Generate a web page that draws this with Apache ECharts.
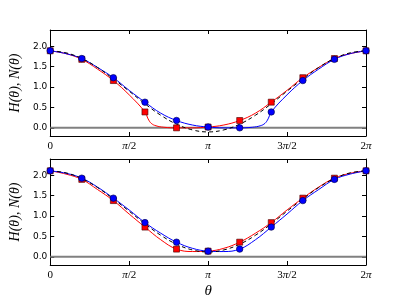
<!DOCTYPE html>
<html>
<head>
<meta charset="utf-8">
<script src="https://cdn.jsdelivr.net/npm/echarts@6/dist/echarts.min.js"></script>
<style>html,body{margin:0;padding:0;background:#fff}#c{width:407px;height:305px}</style>
</head>
<body>
<div id="c"></div>
<script>
// theta values expressed in units of pi
var markTheta = [0, 0.2, 0.4, 0.6, 0.8, 1.0, 1.2, 1.4, 1.6, 1.8, 2.0];
var xTickLabels = ['0', '{i|π}/2', '{i|π}', '3{i|π}/2', '2{i|π}'];
var yTickValues = [0, 0.5, 1.0, 1.5, 2.0];

// top panel markers
var blueTopMarks = [1.89, 1.70, 1.23, 0.63, 0.18, 0.02, 0.00, 0.39, 1.16, 1.68, 1.89];
var redTopMarks  = [1.89, 1.68, 1.16, 0.39, 0.00, 0.02, 0.18, 0.63, 1.23, 1.70, 1.89];
// top panel curves
var blueTopTheta = [0, 0.1, 0.2, 0.3, 0.4, 0.5, 0.6, 0.7, 0.8, 0.9, 1.0, 1.1, 1.2, 1.28, 1.33, 1.36, 1.38, 1.4, 1.5, 1.6, 1.7, 1.8, 1.9, 2.0];
var blueTopCurve = [1.89, 1.82, 1.70, 1.48, 1.23, 0.92, 0.63, 0.36, 0.18, 0.07, 0.02, 0.00, 0.00, 0.015, 0.05, 0.11, 0.22, 0.39, 0.81, 1.16, 1.44, 1.68, 1.82, 1.89];
var redTopTheta  = [0, 0.1, 0.2, 0.3, 0.4, 0.5, 0.6, 0.62, 0.64, 0.67, 0.72, 0.8, 0.9, 1.0, 1.1, 1.2, 1.3, 1.4, 1.5, 1.6, 1.7, 1.8, 1.9, 2.0];
var redTopCurve  = [1.89, 1.82, 1.68, 1.44, 1.16, 0.81, 0.39, 0.22, 0.11, 0.05, 0.015, 0.00, 0.00, 0.02, 0.07, 0.18, 0.36, 0.63, 0.92, 1.23, 1.48, 1.70, 1.82, 1.89];
var dashTheta = [0, 0.1, 0.2, 0.3, 0.4, 0.5, 0.6, 0.7, 0.8, 0.9, 1.0, 1.1, 1.2, 1.3, 1.4, 1.5, 1.6, 1.7, 1.8, 1.9, 2.0];
var dashTop   = [1.89, 1.84, 1.70, 1.48, 1.20, 0.90, 0.59, 0.31, 0.09, -0.05, -0.10, -0.05, 0.09, 0.31, 0.59, 0.90, 1.20, 1.48, 1.70, 1.84, 1.89];

// bottom panel markers
var blueBotMarks = [2.11, 1.93, 1.44, 0.84, 0.36, 0.14, 0.19, 0.73, 1.38, 1.90, 2.11];
var redBotMarks  = [2.11, 1.90, 1.38, 0.73, 0.19, 0.14, 0.36, 0.84, 1.44, 1.93, 2.11];
// bottom panel curves
var curveTheta  = [0, 0.1, 0.2, 0.3, 0.4, 0.5, 0.6, 0.7, 0.8, 0.9, 1.0, 1.1, 1.2, 1.3, 1.4, 1.5, 1.6, 1.7, 1.8, 1.9, 2.0];
var blueBotCurve = [2.11, 2.05, 1.93, 1.71, 1.44, 1.15, 0.84, 0.58, 0.36, 0.21, 0.14, 0.13, 0.19, 0.42, 0.73, 1.05, 1.38, 1.65, 1.90, 2.03, 2.11];
var redBotCurve  = [2.11, 2.03, 1.90, 1.65, 1.38, 1.05, 0.73, 0.42, 0.19, 0.13, 0.14, 0.21, 0.36, 0.58, 0.84, 1.15, 1.44, 1.71, 1.93, 2.05, 2.11];
var dashBot      = [2.11, 2.06, 1.92, 1.70, 1.42, 1.12, 0.81, 0.53, 0.31, 0.17, 0.12, 0.17, 0.31, 0.53, 0.81, 1.12, 1.42, 1.70, 1.92, 2.06, 2.11];

function pairs(xs, ys) { return xs.map(function (x, i) { return [x, ys[i]]; }); }

var BLUE = '#0000ff', RED = '#ff0000';
var serif = 'Liberation Serif';

function xAxes(gi) {
  var lblMap = {0: xTickLabels[0], 0.5: xTickLabels[1], 1: xTickLabels[2], 1.5: xTickLabels[3], 2: xTickLabels[4]};
  var base = {
    type: 'value', gridIndex: gi, min: 0, max: 2, interval: 0.5,
    axisLine: {show: true, onZero: false, lineStyle: {color: '#000', width: 1}},
    axisTick: {show: true, inside: true, length: 4, lineStyle: {color: '#000'}},
    splitLine: {show: false}
  };
  var bottom = Object.assign({}, base, {
    position: 'bottom',
    axisLabel: {
      show: true, margin: 5, color: '#000', fontFamily: serif, fontSize: 11,
      formatter: function (v) { return lblMap[v] !== undefined ? lblMap[v] : ''; },
      rich: {i: {fontFamily: serif, fontStyle: 'italic', fontSize: 11, color: '#000'}}
    }
  });
  if (gi === 1) {
    bottom.name = 'θ';
    bottom.nameLocation = 'middle';
    bottom.nameGap = 19;
    bottom.nameTextStyle = {fontFamily: serif, fontStyle: 'italic', fontSize: 15, color: '#000'};
  }
  var top = Object.assign({}, base, {position: 'top', axisLabel: {show: false}});
  return [bottom, top];
}
function yAxes(gi) {
  var base = {
    type: 'value', gridIndex: gi, min: -0.2, max: 2.4,
    axisLine: {show: true, onZero: false, lineStyle: {color: '#000', width: 1}},
    axisTick: {show: true, inside: true, length: 4, customValues: yTickValues, lineStyle: {color: '#000'}},
    splitLine: {show: false}
  };
  var left = Object.assign({}, base, {
    position: 'left',
    name: 'H(θ), N(θ)', nameLocation: 'middle', nameGap: 14, nameRotate: 90,
    nameTextStyle: {fontFamily: serif, fontStyle: 'italic', fontSize: 14, color: '#000'},
    axisLabel: {show: true, margin: 3, color: '#000', fontFamily: 'DejaVu Sans', fontSize: 9,
      customValues: yTickValues, formatter: function (v) { return v.toFixed(1); }}
  });
  var right = Object.assign({}, base, {position: 'right', axisLabel: {show: false}});
  return [left, right];
}

function panelSeries(gi, redTheta, redCurve, blueTheta, blueCurve, dash, redMarks, blueMarks) {
  var xi = gi * 2, yi = gi * 2;
  return [
    {type: 'line', xAxisIndex: xi, yAxisIndex: yi, data: pairs([0, 2], [0, 0]), showSymbol: false, silent: true,
      lineStyle: {color: '#808080', width: 2}, z: 1, animation: false},
    {type: 'line', xAxisIndex: xi, yAxisIndex: yi, data: pairs(redTheta, redCurve), showSymbol: false, smooth: 0.4,
      lineStyle: {color: RED, width: 1}, z: 2, animation: false},
    {type: 'line', xAxisIndex: xi, yAxisIndex: yi, data: pairs(blueTheta, blueCurve), showSymbol: false, smooth: 0.4,
      lineStyle: {color: BLUE, width: 1}, z: 3, animation: false},
    {type: 'line', xAxisIndex: xi, yAxisIndex: yi, data: pairs(dashTheta, dash), showSymbol: false, smooth: 0.4,
      lineStyle: {color: '#000', width: 1, type: [4, 3]}, z: 4, animation: false},
    {type: 'scatter', xAxisIndex: xi, yAxisIndex: yi, data: pairs(markTheta, redMarks), symbol: 'rect', symbolSize: 6,
      itemStyle: {color: RED, borderColor: '#400000', borderWidth: 0.6, opacity: 1}, z: 5, animation: false},
    {type: 'scatter', xAxisIndex: xi, yAxisIndex: yi, data: pairs(markTheta, blueMarks), symbol: 'circle', symbolSize: 6.5,
      itemStyle: {color: BLUE, borderColor: '#000040', borderWidth: 0.6, opacity: 1}, z: 6, animation: false}
  ];
}

var chart = echarts.init(document.getElementById('c'), null, {renderer: 'canvas'});
var option = {
  animation: false,
  backgroundColor: '#fff',
  grid: [
    {left: 50, right: 41, top: 30, height: 106, show: false},
    {left: 50, right: 41, top: 159, height: 106, show: false}
  ],
  xAxis: xAxes(0).concat(xAxes(1)),
  yAxis: yAxes(0).concat(yAxes(1)),
  series: panelSeries(0, redTopTheta, redTopCurve, blueTopTheta, blueTopCurve, dashTop, redTopMarks, blueTopMarks)
    .concat(panelSeries(1, curveTheta, redBotCurve, curveTheta, blueBotCurve, dashBot, redBotMarks, blueBotMarks))
};
chart.setOption(option);
</script>
</body>
</html>
